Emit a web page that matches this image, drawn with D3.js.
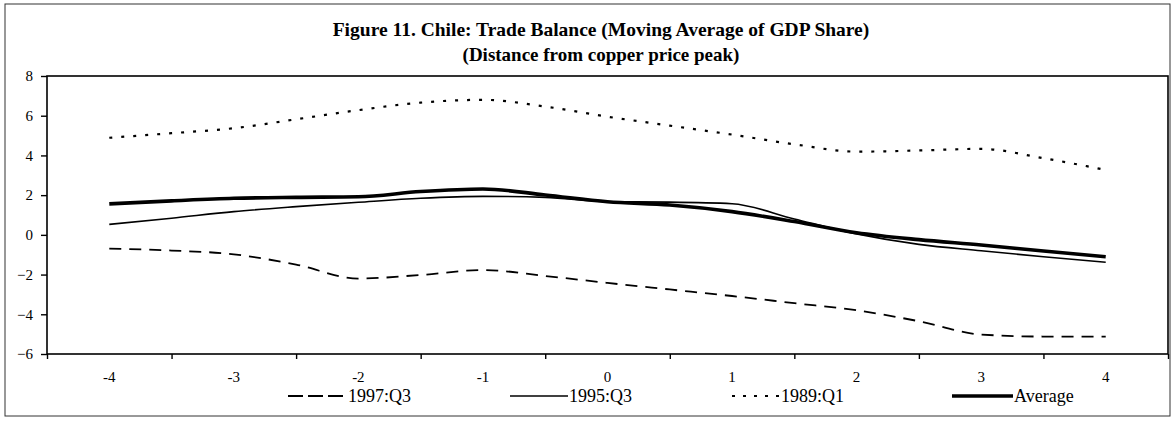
<!DOCTYPE html>
<html>
<head>
<meta charset="utf-8">
<script src="https://cdn.jsdelivr.net/npm/d3@7"></script>
<style>
  body { margin: 0; background: #fff; }
  text { font-family: "Liberation Serif", "Times New Roman", serif; fill: #000; }
</style>
</head>
<body>
<script>
// distance from copper price peak (years), read every half year off the figure
var steps = [-4, -3.5, -3, -2.5, -2, -1.5, -1, -0.5, 0, 0.5, 1, 1.5, 2, 2.5, 3, 3.5, 4];
var xLabels = ["-4", "-3", "-2", "-1", "0", "1", "2", "3", "4"];
var yTicks = [-6, -4, -2, 0, 2, 4, 6, 8];

var s1997 = [-0.69, -0.79, -0.98, -1.50, -2.20, -2.02, -1.77, -2.07, -2.42, -2.75, -3.08, -3.44, -3.80, -4.35, -5.02, -5.12, -5.12];
var s1995 = [0.53, 0.84, 1.17, 1.42, 1.64, 1.84, 1.94, 1.89, 1.67, 1.65, 1.57, 0.80, 0.05, -0.48, -0.80, -1.10, -1.38];
var s1989 = [4.89, 5.12, 5.37, 5.82, 6.28, 6.66, 6.80, 6.46, 5.95, 5.50, 5.05, 4.56, 4.19, 4.25, 4.33, 3.86, 3.27];
var sAvg  = [1.56, 1.71, 1.84, 1.89, 1.92, 2.18, 2.31, 2.01, 1.67, 1.50, 1.17, 0.67, 0.11, -0.24, -0.51, -0.81, -1.10];

var W = 1174, H = 423;
var plotL = 47, plotR = 1168, plotT = 76, plotB = 354;

var svg = d3.select('body').append('svg')
    .attr('width', W)
    .attr('height', H);

// outer frame
svg.append('rect')
    .attr('x', 5).attr('y', 4)
    .attr('width', 1165).attr('height', 412)
    .attr('fill', 'none')
    .attr('stroke', '#333')
    .attr('stroke-width', 1);

svg.append('text')
    .attr('x', 601).attr('y', 36)
    .attr('text-anchor', 'middle')
    .style('font-size', '19.5px')
    .style('font-weight', 'bold')
    .text('Figure 11. Chile: Trade Balance (Moving Average of GDP Share)');
svg.append('text')
    .attr('x', 601).attr('y', 61)
    .attr('text-anchor', 'middle')
    .style('font-size', '19px')
    .style('font-weight', 'bold')
    .text('(Distance from copper price peak)');

var x = d3.scaleLinear().domain([-4.5, 4.5]).range([plotL, plotR]);
var y = d3.scaleLinear().domain([-6, 8]).range([plotB, plotT]);

// plot border
svg.append('rect')
    .attr('x', plotL).attr('y', plotT)
    .attr('width', plotR - plotL).attr('height', plotB - plotT)
    .attr('fill', 'none')
    .attr('stroke', '#000')
    .attr('stroke-width', 1.6);

// y axis
var yAxis = svg.append('g')
    .attr('transform', 'translate(' + plotL + ',0)')
    .call(d3.axisLeft(y).tickValues(yTicks).tickSize(6).tickPadding(8));
yAxis.select('.domain').remove();
yAxis.selectAll('line').attr('stroke', '#000').attr('stroke-width', 1.4);
yAxis.selectAll('text')
    .style('font-size', '15px')
    .style('font-family', '"Liberation Serif", serif');

// x axis: ticks between categories, labels at centres
var bounds = [-4.5, -3.5, -2.5, -1.5, -0.5, 0.5, 1.5, 2.5, 3.5, 4.5];
var xTickAxis = svg.append('g')
    .attr('transform', 'translate(0,' + plotB + ')')
    .call(d3.axisBottom(x).tickValues(bounds).tickSize(5).tickFormat(''));
xTickAxis.select('.domain').remove();
xTickAxis.selectAll('line').attr('stroke', '#000').attr('stroke-width', 1.4);

svg.append('g').selectAll('text')
    .data(xLabels)
    .enter().append('text')
    .attr('x', function(d) { return x(+d); })
    .attr('y', 382)
    .attr('text-anchor', 'middle')
    .style('font-size', '15px')
    .text(function(d) { return d; });

var series = [
    { name: '1997:Q3', values: s1997, width: 1.8, dash: '12,8', legDash: '15,5' },
    { name: '1995:Q3', values: s1995, width: 1.6, dash: null, legDash: null },
    { name: '1989:Q1', values: s1989, width: 2.2, dash: '3,9', legDash: '3,8' },
    { name: 'Average', values: sAvg, width: 3.6, dash: null, legDash: null }
];

var line = d3.line()
    .x(function(d, i) { return x(steps[i]); })
    .y(function(d) { return y(d); })
    .curve(d3.curveMonotoneX);

svg.append('g').selectAll('path')
    .data(series)
    .enter().append('path')
    .attr('d', function(d) { return line(d.values); })
    .attr('fill', 'none')
    .attr('stroke', '#000')
    .attr('stroke-width', function(d) { return d.width; })
    .attr('stroke-dasharray', function(d) { return d.dash; });

// legend
var legX = [288, 510, 732, 952];
var legLen = [59, 58, 48, 61];
var leg = svg.append('g').selectAll('g')
    .data(series)
    .enter().append('g')
    .attr('transform', function(d, i) { return 'translate(' + legX[i] + ',396)'; });
leg.append('line')
    .attr('x1', 0)
    .attr('x2', function(d, i) { return legLen[i]; })
    .attr('stroke', '#000')
    .attr('stroke-width', function(d) { return d.width; })
    .attr('stroke-dasharray', function(d) { return d.legDash; });
leg.append('text')
    .attr('x', function(d, i) { return legLen[i] + 1; })
    .attr('y', 6)
    .style('font-size', '18px')
    .text(function(d) { return d.name; });
</script>
</body>
</html>
